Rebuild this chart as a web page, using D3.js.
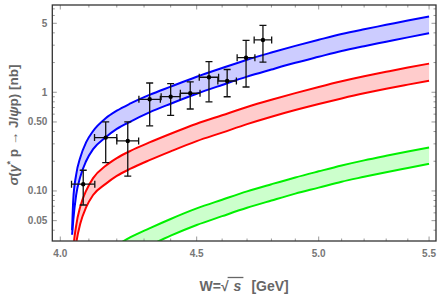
<!DOCTYPE html>
<html>
<head>
<meta charset="utf-8">
<script src="https://cdn.jsdelivr.net/npm/d3@7/dist/d3.min.js"></script>
<style>
	body { margin: 0; background: #fff; }
	svg { display: block; font-family: 'Liberation Sans', Arial, sans-serif; }
</style>
</head>
<body>
<div id="chart"></div>
<script>
// model bands on a shared W grid (GeV) -> sigma (nb)
const wGrid = [4.041, 4.045, 4.055, 4.07, 4.09, 4.115, 4.16, 4.2, 4.25, 4.32, 4.4, 4.5, 4.6, 4.7, 4.8, 4.9, 5.0, 5.1, 5.2, 5.3, 5.4, 5.5];

const blueUpper = [0.040, 0.081, 0.145, 0.22, 0.31, 0.405, 0.545, 0.65, 0.77, 0.94, 1.14, 1.436, 1.76, 2.135, 2.525, 2.95, 3.40, 3.89, 4.35, 4.82, 5.34, 5.86];
const blueLower = [0.036, 0.05, 0.09, 0.14, 0.20, 0.265, 0.35, 0.425, 0.505, 0.625, 0.765, 0.965, 1.185, 1.44, 1.70, 1.99, 2.29, 2.62, 2.93, 3.25, 3.60, 3.96];

const redUpper = [0.012, 0.024, 0.044, 0.070, 0.10, 0.135, 0.18, 0.215, 0.255, 0.31, 0.38, 0.48, 0.585, 0.71, 0.84, 0.98, 1.13, 1.29, 1.45, 1.61, 1.78, 1.95];
const redLower = [0.008, 0.016, 0.029, 0.047, 0.068, 0.091, 0.118, 0.142, 0.168, 0.205, 0.252, 0.32, 0.39, 0.475, 0.565, 0.66, 0.76, 0.865, 0.975, 1.085, 1.195, 1.31];

const greenUpper = [0.0015, 0.003, 0.0055, 0.0088, 0.0125, 0.017, 0.023, 0.028, 0.034, 0.0418, 0.052, 0.0665, 0.0815, 0.099, 0.117, 0.137, 0.158, 0.181, 0.204, 0.227, 0.251, 0.275];
const greenLower = [0.001, 0.002, 0.0037, 0.006, 0.0085, 0.0115, 0.0155, 0.0188, 0.0228, 0.028, 0.0352, 0.0452, 0.0555, 0.0675, 0.080, 0.094, 0.108, 0.124, 0.139, 0.155, 0.171, 0.188];

// measured points
const dataW = [4.080, 4.160, 4.240, 4.321, 4.400, 4.475, 4.548, 4.620, 4.696, 4.765];
const dataWErr = [0.041, 0.040, 0.040, 0.040, 0.036, 0.038, 0.038, 0.037, 0.036, 0.036];
const dataSigma = [0.117, 0.347, 0.321, 0.849, 0.902, 0.977, 1.42, 1.30, 2.24, 3.39];
const dataSigmaErr = [0.045, 0.153, 0.180, 0.392, 0.320, 0.300, 0.620, 0.400, 1.11, 1.37];

// ticks
const xMajor = [4.0, 4.5, 5.0, 5.5];
const xTickLabels = ['4.0', '4.5', '5.0', '5.5'];
const xMinor = [4.1, 4.2, 4.3, 4.4, 4.6, 4.7, 4.8, 4.9, 5.1, 5.2, 5.3, 5.4];
const yMajor = [0.05, 0.1, 0.5, 1, 5];
const yTickLabels = ['0.05', '0.10', '0.50', '1', '5'];
const yMinor = [0.04, 0.06, 0.07, 0.08, 0.09, 0.2, 0.3, 0.4, 0.6, 0.7, 0.8, 0.9, 2, 3, 4, 6, 7];

const width = 442;
const height = 300;
const frame = { left: 52.3, right: 436, top: 5, bottom: 241 };

const x = d3.scaleLog()
	.domain([3.9725, 5.533])
	.range([frame.left, frame.right]);

const y = d3.scaleLog()
	.domain([0.0311, 7.66])
	.range([frame.bottom, frame.top]);

const svg = d3.select('#chart')
	.append('svg')
	.attr('width', width)
	.attr('height', height);

svg.append('clipPath')
	.attr('id', 'plotClip')
	.append('rect')
	.attr('x', frame.left)
	.attr('y', frame.top)
	.attr('width', frame.right - frame.left)
	.attr('height', frame.bottom - frame.top);

const plot = svg.append('g')
	.attr('clip-path', 'url(#plotClip)');

const bands = [
	{ upper: blueUpper, lower: blueLower, line: '#0000ff', fill: '#ccccff' },
	{ upper: redUpper, lower: redLower, line: '#ff0000', fill: '#ffcccc' },
	{ upper: greenUpper, lower: greenLower, line: '#00f000', fill: '#ccffcc' }
];

const area = d3.area()
	.x((d) => x(d.w))
	.y0((d) => y(d.lo))
	.y1((d) => y(d.hi))
	.curve(d3.curveMonotoneX);

const line = d3.line()
	.x((d) => x(d.w))
	.y((d) => y(d.v))
	.curve(d3.curveMonotoneX);

bands.forEach((band) => {
	const rows = wGrid.map((w, i) => ({ w: w, lo: band.lower[i], hi: band.upper[i] }));

	plot.append('path')
		.attr('d', area(rows))
		.attr('fill', band.fill)
		.attr('stroke', 'none');

	[band.upper, band.lower].forEach((vals) => {
		plot.append('path')
			.attr('d', line(wGrid.map((w, i) => ({ w: w, v: vals[i] }))))
			.attr('fill', 'none')
			.attr('stroke', band.line)
			.attr('stroke-width', 2);
	});
});

// error bars
const points = dataW.map((w, i) => ({
	w: w,
	dw: dataWErr[i],
	s: dataSigma[i],
	ds: dataSigmaErr[i]
}));

const cap = 3.5;
const bars = plot.append('g')
	.attr('stroke', '#111')
	.attr('stroke-width', 1.3);

points.forEach((p) => {
	const cx = x(p.w);
	const cy = y(p.s);
	const x0 = x(p.w - p.dw);
	const x1 = x(p.w + p.dw);
	const y0 = y(p.s - p.ds);
	const y1 = y(p.s + p.ds);

	bars.append('line').attr('x1', x0).attr('x2', x1).attr('y1', cy).attr('y2', cy);
	bars.append('line').attr('x1', cx).attr('x2', cx).attr('y1', y0).attr('y2', y1);
	bars.append('line').attr('x1', x0).attr('x2', x0).attr('y1', cy - cap).attr('y2', cy + cap);
	bars.append('line').attr('x1', x1).attr('x2', x1).attr('y1', cy - cap).attr('y2', cy + cap);
	bars.append('line').attr('x1', cx - cap).attr('x2', cx + cap).attr('y1', y0).attr('y2', y0);
	bars.append('line').attr('x1', cx - cap).attr('x2', cx + cap).attr('y1', y1).attr('y2', y1);
});

plot.append('g')
	.selectAll('circle')
	.data(points)
	.join('circle')
	.attr('cx', (d) => x(d.w))
	.attr('cy', (d) => y(d.s))
	.attr('r', 2.2)
	.attr('fill', '#000');

// frame ticks, inward on all four sides
const ticks = svg.append('g')
	.attr('stroke', '#999')
	.attr('stroke-width', 1);

const majorLen = 4.5;
const minorLen = 2.5;

const addXTicks = (vals, len) => {
	vals.forEach((v) => {
		ticks.append('line')
			.attr('x1', x(v)).attr('x2', x(v))
			.attr('y1', frame.bottom).attr('y2', frame.bottom - len);
		ticks.append('line')
			.attr('x1', x(v)).attr('x2', x(v))
			.attr('y1', frame.top).attr('y2', frame.top + len);
	});
};

const addYTicks = (vals, len) => {
	vals.forEach((v) => {
		ticks.append('line')
			.attr('x1', frame.left).attr('x2', frame.left + len)
			.attr('y1', y(v)).attr('y2', y(v));
		ticks.append('line')
			.attr('x1', frame.right).attr('x2', frame.right - len)
			.attr('y1', y(v)).attr('y2', y(v));
	});
};

addXTicks(xMajor, majorLen);
addXTicks(xMinor, minorLen);
addYTicks(yMajor, majorLen);
addYTicks(yMinor, minorLen);

svg.append('rect')
	.attr('x', frame.left)
	.attr('y', frame.top)
	.attr('width', frame.right - frame.left)
	.attr('height', frame.bottom - frame.top)
	.attr('fill', 'none')
	.attr('stroke', '#333')
	.attr('stroke-width', 1.3);

// tick labels
svg.append('g')
	.selectAll('text')
	.data(xMajor)
	.join('text')
	.attr('x', (d) => x(d))
	.attr('y', 257)
	.attr('text-anchor', 'middle')
	.attr('font-size', 10)
	.attr('font-weight', 'bold')
	.attr('fill', '#777')
	.text((d, i) => xTickLabels[i]);

svg.append('g')
	.selectAll('text')
	.data(yMajor)
	.join('text')
	.attr('x', frame.left - 5)
	.attr('y', (d) => y(d))
	.attr('dy', '0.35em')
	.attr('text-anchor', 'end')
	.attr('font-size', 10)
	.attr('font-weight', 'bold')
	.attr('fill', '#777')
	.text((d, i) => yTickLabels[i]);

// y axis title
const yTitle = svg.append('text')
	.attr('transform', `translate(18, ${(frame.top + frame.bottom) / 2 + 2}) rotate(-90)`)
	.attr('text-anchor', 'middle')
	.attr('font-size', 13.5)
	.attr('font-weight', 'bold')
	.attr('fill', '#666');

yTitle.append('tspan').attr('font-style', 'italic').text('σ');
yTitle.append('tspan').text('(');
yTitle.append('tspan').attr('font-style', 'italic').text('γ');
yTitle.append('tspan').attr('font-size', 9).attr('dy', -5).text('*');
yTitle.append('tspan').attr('dy', 5).text(' p → J/');
yTitle.append('tspan').attr('font-style', 'italic').text('ψ');
yTitle.append('tspan').text('p) [nb]');

// x axis title: W = sqrt(s) [GeV], radical bar drawn by hand
const xTitle = svg.append('g')
	.attr('font-size', 14)
	.attr('font-weight', 'bold')
	.attr('fill', '#666');

const baseY = 291;
const parts = [
	{ t: 'W=√', italic: false, gap: 5 },
	{ t: 's', italic: true, gap: 10 },
	{ t: '[GeV]', italic: false, gap: 0 }
];

let cursor = 0;
const nodes = parts.map((p) => {
	const node = xTitle.append('text')
		.attr('y', baseY)
		.attr('font-style', p.italic ? 'italic' : 'normal')
		.text(p.t);
	const len = node.node().getComputedTextLength();
	const start = cursor;
	cursor += len + p.gap;
	return { node, start, len };
});

const totalLen = cursor;
const startX = (frame.left + frame.right) / 2 - totalLen / 2;
nodes.forEach((n) => n.node.attr('x', startX + n.start));

const rootEnd = startX + nodes[0].start + nodes[0].len;
xTitle.append('line')
	.attr('x1', rootEnd - 1)
	.attr('x2', startX + nodes[1].start + nodes[1].len + 2)
	.attr('y1', baseY - 13.5)
	.attr('y2', baseY - 13.5)
	.attr('stroke', '#666')
	.attr('stroke-width', 1.3);
</script>
</body>
</html>
